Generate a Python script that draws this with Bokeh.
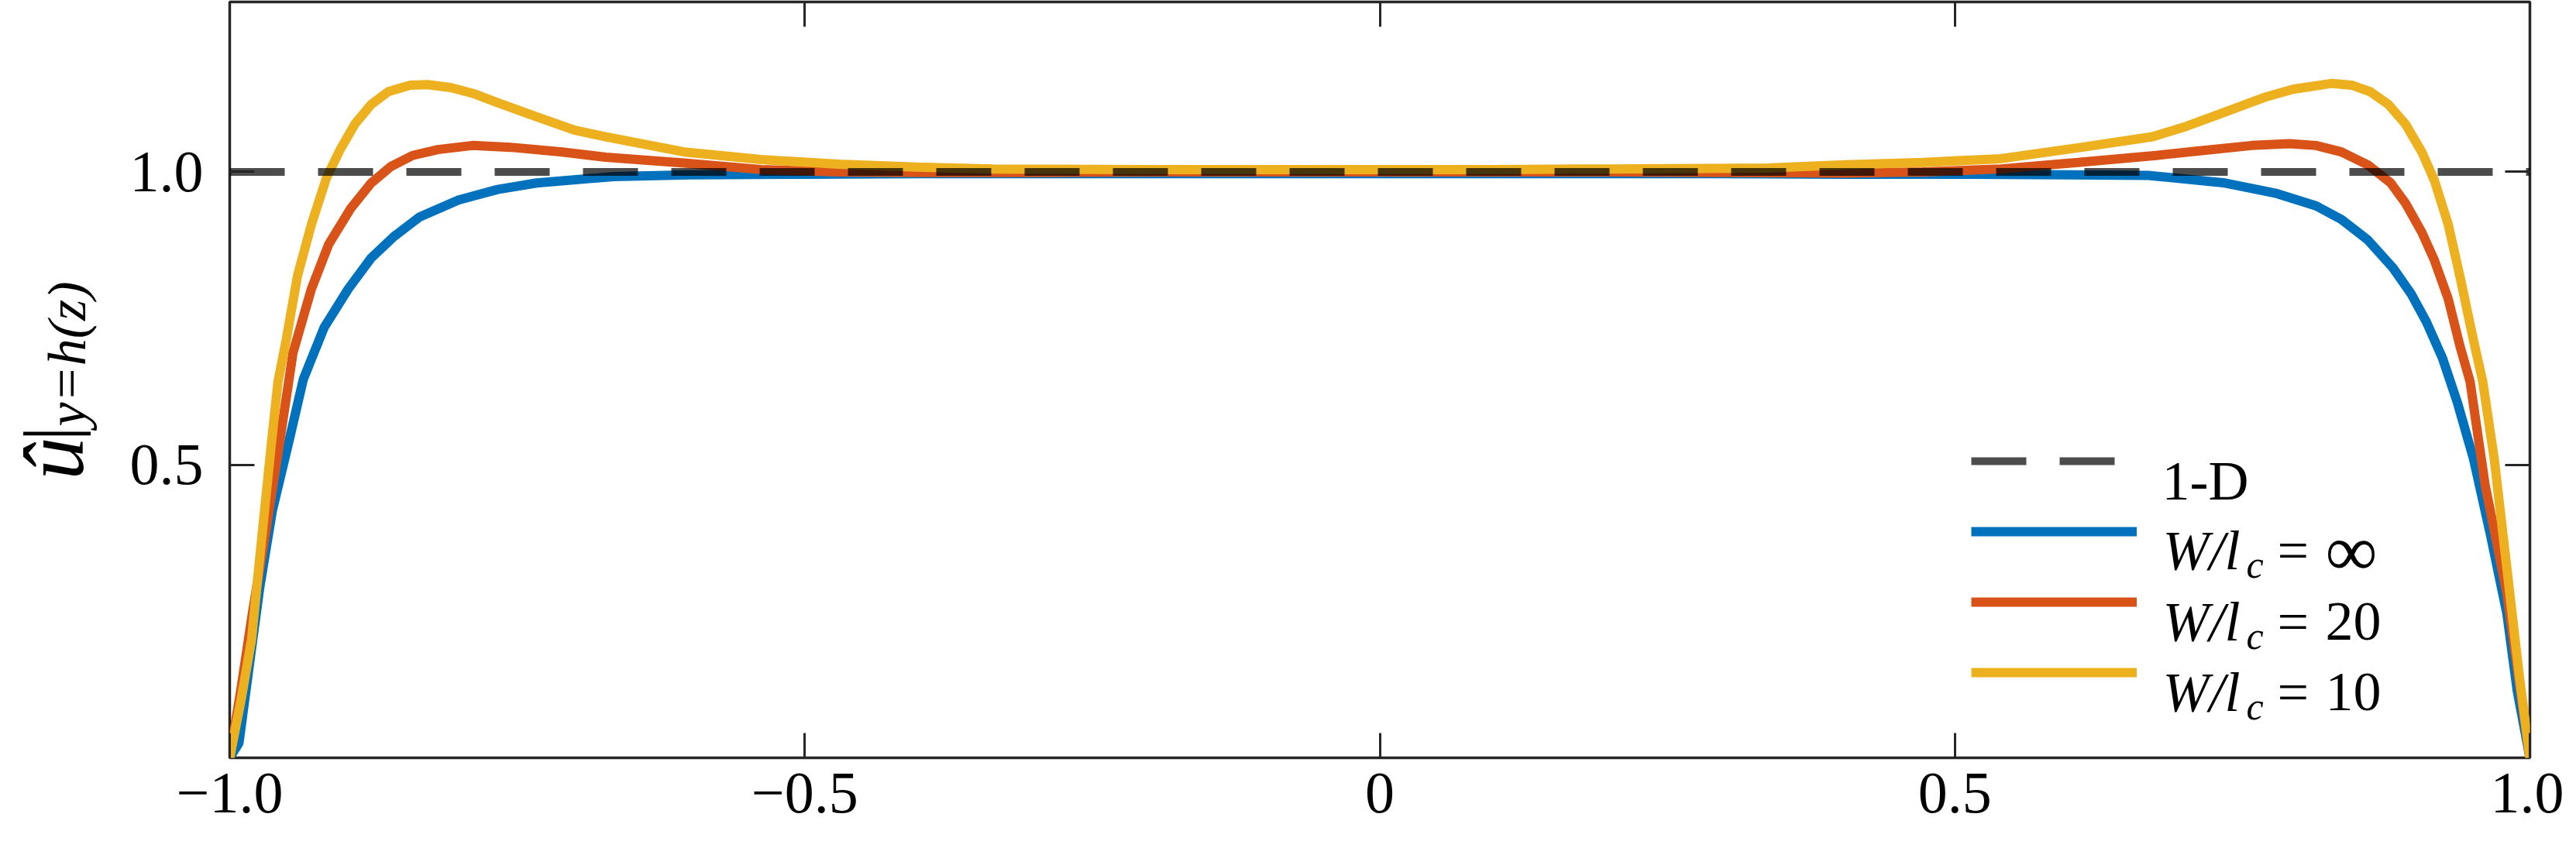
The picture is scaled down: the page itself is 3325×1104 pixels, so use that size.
import math
from bokeh.plotting import figure
from bokeh.layouts import row
from bokeh.models import Range1d, LinearAxis, FixedTicker, Legend, LegendItem, Label
from bokeh.embed import file_html
from bokeh.resources import INLINE

# ---------------- data ----------------
x_1d = [-1.0, 1.0]
u_1d = [1.0, 1.0]

x_inf = [-1.0, -0.992, -0.983, -0.974, -0.963, -0.949, -0.936, -0.918, -0.897, -0.877,
         -0.857, -0.835, -0.801, -0.767, -0.733, -0.666, -0.6, -0.5, -0.4, -0.3,
         -0.2, -0.1, 0.0, 0.1, 0.2, 0.3, 0.4, 0.5, 0.6, 0.668,
         0.735, 0.780, 0.814, 0.836, 0.859, 0.881, 0.897, 0.910, 0.924, 0.937,
         0.951, 0.966, 0.980, 0.989, 1.0]
u_inf = [0.0, 0.025, 0.157, 0.289, 0.421, 0.536, 0.646, 0.734, 0.800, 0.853,
         0.890, 0.923, 0.952, 0.970, 0.981, 0.992, 0.995, 0.996, 0.997, 0.997,
         0.997, 0.997, 0.997, 0.997, 0.997, 0.997, 0.996, 0.996, 0.995, 0.994,
         0.981, 0.963, 0.942, 0.919, 0.884, 0.836, 0.791, 0.744, 0.682, 0.606,
         0.510, 0.378, 0.246, 0.114, 0.0]

x_20 = [-1.0, -0.99, -0.98, -0.97, -0.958, -0.945, -0.929, -0.914, -0.895, -0.877,
        -0.860, -0.841, -0.819, -0.789, -0.756, -0.711, -0.673, -0.605, -0.538, -0.47,
        -0.4, -0.3, -0.2, -0.1, 0.0, 0.1, 0.2, 0.3, 0.405, 0.4725,
        0.540, 0.607, 0.675, 0.713, 0.758, 0.791, 0.814, 0.836, 0.859, 0.879,
        0.892, 0.906, 0.917, 0.929, 0.939, 0.948, 0.961, 0.98, 0.99, 1.0]
u_20 = [0.0, 0.12, 0.25, 0.37, 0.52, 0.691, 0.800, 0.876, 0.937, 0.981,
        1.009, 1.028, 1.038, 1.045, 1.042, 1.034, 1.025, 1.015, 1.004, 1.0,
        0.999, 0.999, 1.0, 1.0, 1.0, 1.0, 1.0, 0.999, 0.998, 1.0,
        1.005, 1.016, 1.028, 1.036, 1.045, 1.048, 1.045, 1.034, 1.012, 0.981,
        0.946, 0.897, 0.849, 0.783, 0.704, 0.642, 0.466, 0.28, 0.14, 0.0]

x_10 = [-1.0, -0.99, -0.981, -0.972, -0.964, -0.958, -0.951, -0.941, -0.929, -0.916,
        -0.904, -0.891, -0.877, -0.862, -0.843, -0.828, -0.808, -0.787, -0.767, -0.733,
        -0.700, -0.673, -0.605, -0.538, -0.4705, -0.403, -0.336, -0.2, -0.1, 0.0,
        0.1, 0.2, 0.338, 0.405, 0.4725, 0.540, 0.607, 0.672, 0.7016, 0.735,
        0.769, 0.794, 0.828, 0.845, 0.861, 0.877, 0.892, 0.906, 0.917, 0.929,
        0.939, 0.951, 0.959, 0.969, 0.982, 0.991, 1.0]
u_10 = [0.0, 0.10, 0.202, 0.378, 0.532, 0.642, 0.712, 0.823, 0.910, 0.989,
        1.038, 1.082, 1.115, 1.137, 1.148, 1.149, 1.144, 1.133, 1.118, 1.094,
        1.071, 1.060, 1.034, 1.021, 1.013, 1.008, 1.005, 1.004, 1.004, 1.004,
        1.004, 1.005, 1.0066, 1.012, 1.016, 1.0225, 1.041, 1.060, 1.078, 1.102,
        1.127, 1.141, 1.151, 1.148, 1.137, 1.115, 1.081, 1.034, 0.985, 0.910,
        0.823, 0.712, 0.642, 0.510, 0.289, 0.136, 0.0]

x_ticks = [-1.0, -0.5, 0.0, 0.5, 1.0]
x_tick_labels = ["\u22121.0", "\u22120.5", "0", "0.5", "1.0"]
y_ticks = [0.5, 1.0]
y_tick_labels = ["0.5", "1.0"]

legend_values = ["\u221e", "20", "10"]

# ---------------- style ----------------
SERIF = "Liberation Serif"
AX = "#262626"
C_1D = "black"
C_INF = "#0072BD"
C_20 = "#D95319"
C_10 = "#EDB120"

H = 1088
LW = 150          # width of the strip that holds the y-axis label
PW = 3309 - LW    # width of the main plot

p = figure(width=PW, height=H, output_backend="svg", toolbar_location=None,
           x_range=Range1d(-1.0, 1.0), y_range=Range1d(0.0, 1.29),
           min_border_left=296 - LW, min_border_right=44, min_border_top=2,
           min_border_bottom=110,
           background_fill_color="white", border_fill_color="white")
p.grid.visible = False
p.outline_line_color = AX
p.outline_line_width = 3.5

def style_axis(ax, ticks, labels, show_labels, standoff):
    ax.ticker = FixedTicker(ticks=ticks)
    ax.major_label_overrides = {t: l for t, l in zip(ticks, labels)}
    ax.minor_tick_line_color = None
    ax.major_tick_in = 32
    ax.major_tick_out = 0
    ax.major_tick_line_width = 3
    ax.major_tick_line_color = AX
    ax.axis_line_color = None
    ax.major_label_standoff = standoff
    if show_labels:
        ax.major_label_text_font = SERIF
        ax.major_label_text_font_size = "76px"
        ax.major_label_text_color = "black"
    else:
        ax.major_label_text_font_size = "0px"

style_axis(p.xaxis[0], x_ticks, x_tick_labels, True, 20)
style_axis(p.yaxis[0], y_ticks, y_tick_labels, True, 34)

top_ax = LinearAxis()
right_ax = LinearAxis()
style_axis(top_ax, x_ticks, ["" for _ in x_ticks], False, 0)
style_axis(right_ax, y_ticks, ["" for _ in y_ticks], False, 0)
p.add_layout(top_ax, "above")
p.add_layout(right_ax, "right")

r_inf = p.line(x_inf, u_inf, line_color=C_INF, line_width=12)
r_20 = p.line(x_20, u_20, line_color=C_20, line_width=12)
r_10 = p.line(x_10, u_10, line_color=C_10, line_width=12)
r_1d = p.line(x_1d, u_1d, line_color=C_1D, line_alpha=0.7, line_width=10, line_dash="71 43")

legend = Legend(items=[LegendItem(label=" ", renderers=[r_1d]),
                       LegendItem(label=" ", renderers=[r_inf]),
                       LegendItem(label=" ", renderers=[r_20]),
                       LegendItem(label=" ", renderers=[r_10])],
                location=(2248, 100), glyph_width=214, glyph_height=20,
                label_height=20, label_width=10, spacing=71, padding=0, margin=0,
                label_standoff=0, label_text_font_size="10px",
                border_line_color=None, background_fill_alpha=0.0)
p.add_layout(legend)

def lab(fig, text, x, y, size, style="normal", angle=0.0):
    fig.add_layout(Label(x=x, y=y, x_units="screen", y_units="screen", text=text,
                         text_font=SERIF, text_font_size=size, text_font_style=style,
                         text_color="black", text_align="left", text_baseline="alphabetic",
                         angle=angle))

# ---------------- legend texts (frame-relative screen units) ----------------
row_centers = [383, 292, 200, 109]
TX = 2493

lab(p, "1-D", TX + 1, row_centers[0] - 25, "72px")
for rc, val in zip(row_centers[1:], legend_values):
    base = rc - 24
    lab(p, "W/l", TX + 2, base, "72px", "italic")
    lab(p, "c", TX + 110, base - 18, "50px", "italic")
    lab(p, "=", TX + 150, base, "72px")
    lab(p, val, TX + 212, base, "94px" if val == "\u221e" else "72px")

# ---------------- y-axis label strip: u-hat | y=h(z) ----------------
lp = figure(width=LW, height=H, output_backend="svg", toolbar_location=None,
            x_range=Range1d(0, 1), y_range=Range1d(0, 1),
            x_axis_location=None, y_axis_location=None,
            min_border=0, min_border_left=0, min_border_right=0,
            min_border_top=0, min_border_bottom=0,
            background_fill_color="white", border_fill_color="white")
lp.grid.visible = False
lp.outline_line_color = None

A = math.pi / 2
lab(lp, "\u00fb", 69, 359, "110px", "italic", A)
lab(lp, "|", 64, 409, "96px", "normal", A)
lab(lp, "y=h(z)", 86, 428, "70px", "italic", A)

layout = row(lp, p, spacing=0)
open("out.html", "w").write(file_html(layout, INLINE))
